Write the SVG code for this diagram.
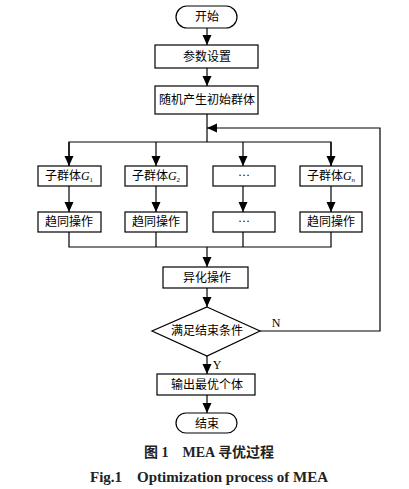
<svg xmlns="http://www.w3.org/2000/svg" width="409" height="489" viewBox="0 0 409 489">
<style>
.b{fill:#fff;stroke:#000;stroke-width:1.2}
.t{font-family:"Liberation Serif","Noto Sans CJK SC",serif;font-size:12px;text-anchor:middle;fill:#000}
.l{fill:none;stroke:#000;stroke-width:1.2}
.c{font-family:"Liberation Serif","Noto Sans CJK SC",serif;font-weight:bold;text-anchor:middle;fill:#222}
</style>
<defs>
<marker id="a" markerWidth="12" markerHeight="12" refX="10" refY="5" orient="auto" markerUnits="userSpaceOnUse">
<path d="M0,0.5 L10,5 L0,9.5 Z" fill="#000"/>
</marker>
</defs>
<rect width="409" height="489" fill="#fff"/>
<g id="connectors">
<line class="l" x1="207" y1="28" x2="207" y2="45" marker-end="url(#a)"/>
<line class="l" x1="207" y1="68" x2="207" y2="86" marker-end="url(#a)"/>
<line class="l" x1="207" y1="114" x2="207" y2="142"/>
<polyline class="l" points="69,166 69,142 331,142 331,166"/>
<line class="l" x1="69" y1="142" x2="69" y2="166" marker-end="url(#a)"/>
<line class="l" x1="156" y1="142" x2="156" y2="166" marker-end="url(#a)"/>
<line class="l" x1="243" y1="142" x2="243" y2="166" marker-end="url(#a)"/>
<line class="l" x1="331" y1="142" x2="331" y2="166" marker-end="url(#a)"/>
<line class="l" x1="69" y1="186" x2="69" y2="212" marker-end="url(#a)"/>
<line class="l" x1="156" y1="186" x2="156" y2="212" marker-end="url(#a)"/>
<line class="l" x1="243" y1="186" x2="243" y2="212" marker-end="url(#a)"/>
<line class="l" x1="331" y1="186" x2="331" y2="212" marker-end="url(#a)"/>
<polyline class="l" points="69,232 69,247 331,247 331,232"/>
<line class="l" x1="156" y1="232" x2="156" y2="247"/>
<line class="l" x1="243" y1="232" x2="243" y2="247"/>
<line class="l" x1="207" y1="247" x2="207" y2="267" marker-end="url(#a)"/>
<line class="l" x1="207" y1="288" x2="207" y2="307" marker-end="url(#a)"/>
<polyline class="l" points="260,331 380,331 380,128 207,128" marker-end="url(#a)"/>
<line class="l" x1="207" y1="356" x2="207" y2="374" marker-end="url(#a)"/>
<line class="l" x1="207" y1="395" x2="207" y2="413" marker-end="url(#a)"/>
<text class="t" x="276" y="327">N</text>
<text class="t" x="217" y="369">Y</text>
</g>
<g id="start"><rect class="b" x="176" y="6" width="61" height="22" rx="11"/><text class="t" x="207" y="21">开始</text></g>
<g id="params"><rect class="b" x="155" y="45" width="103" height="23"/><text class="t" x="207" y="61">参数设置</text></g>
<g id="init"><rect class="b" x="155" y="86" width="103" height="28"/><text class="t" x="207" y="104">随机产生初始群体</text></g>
<g id="g1"><rect class="b" x="38" y="166" width="63" height="20"/><text class="t" x="69" y="180">子群体<tspan font-style="italic">G</tspan><tspan font-size="7" dy="2">1</tspan></text></g>
<g id="g2"><rect class="b" x="125" y="166" width="62" height="20"/><text class="t" x="156" y="180">子群体<tspan font-style="italic">G</tspan><tspan font-size="7" dy="2">2</tspan></text></g>
<g id="g3"><rect class="b" x="213" y="166" width="62" height="20"/><text class="t" x="244" y="179">···</text></g>
<g id="gn"><rect class="b" x="300" y="166" width="62" height="20"/><text class="t" x="331" y="180">子群体<tspan font-style="italic">G</tspan><tspan font-size="7" font-style="italic" dy="2">n</tspan></text></g>
<g id="q1"><rect class="b" x="38" y="212" width="63" height="20"/><text class="t" x="69" y="226">趋同操作</text></g>
<g id="q2"><rect class="b" x="125" y="212" width="62" height="20"/><text class="t" x="156" y="226">趋同操作</text></g>
<g id="q3"><rect class="b" x="213" y="212" width="62" height="20"/><text class="t" x="244" y="225">···</text></g>
<g id="qn"><rect class="b" x="300" y="212" width="62" height="20"/><text class="t" x="331" y="226">趋同操作</text></g>
<g id="dissim"><rect class="b" x="163" y="267" width="85" height="21"/><text class="t" x="207" y="282">异化操作</text></g>
<g id="cond"><polygon class="b" points="207,307 260,331 207,356 152,331"/><text class="t" x="207" y="335">满足结束条件</text></g>
<g id="out"><rect class="b" x="157" y="374" width="98" height="21"/><text class="t" x="207" y="389">输出最优个体</text></g>
<g id="end"><rect class="b" x="176" y="413" width="61" height="20" rx="10"/><text class="t" x="207" y="428">结束</text></g>
<g id="caption">
<text class="c" x="209" y="457" font-size="14">图 1　MEA 寻优过程</text>
<text class="c" x="209" y="482" font-size="15">Fig.1　Optimization process of MEA</text>
</g>
</svg>
